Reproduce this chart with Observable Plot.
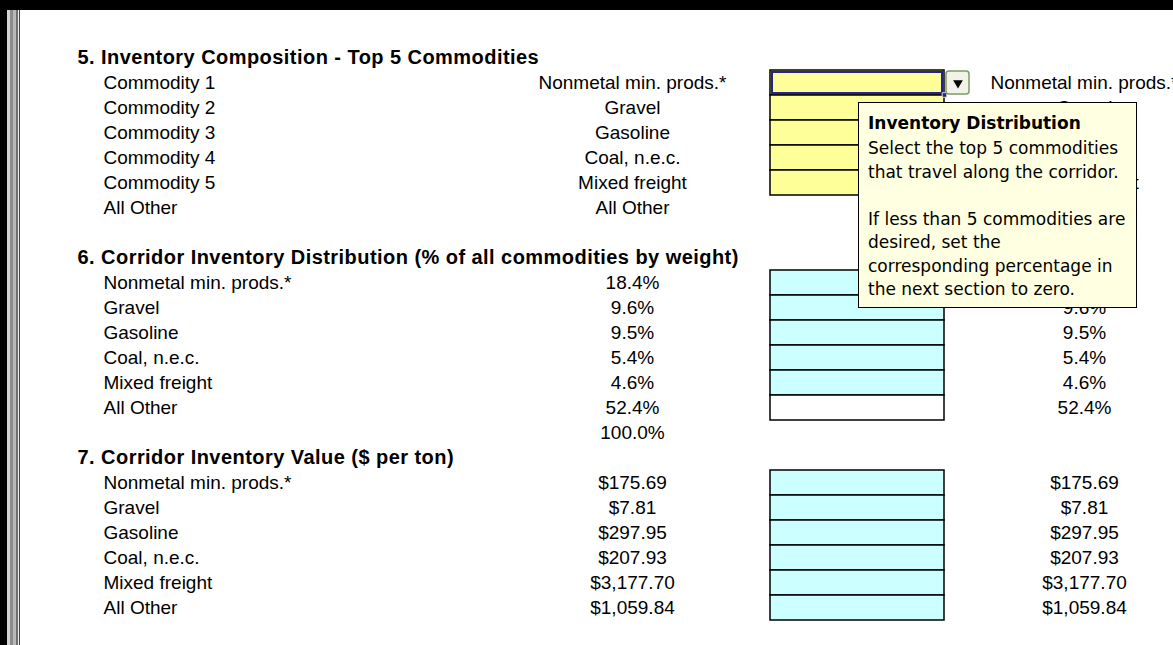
<!DOCTYPE html>
<html>
<head>
<meta charset="utf-8">
<script src="https://cdn.jsdelivr.net/npm/d3@7"></script>
<script src="https://cdn.jsdelivr.net/npm/@observablehq/plot@0.6"></script>
<style>
  html, body { margin: 0; padding: 0; background: #fff; overflow: hidden; }
  #wrap { position: relative; width: 1173px; height: 645px; overflow: hidden; background: #fff; }
  #wrap > svg { position: absolute; left: 0; top: 0; display: block; }
  .bar { position: absolute; }
  .tip {
    position: absolute; left: 858px; top: 102px; width: 279px; height: 206px;
    box-sizing: border-box; background: #ffffe1; border: 1px solid #000;
    font-family: "DejaVu Sans", sans-serif; font-size: 17px; color: #000;
    padding: 8px 0 0 9px; white-space: nowrap; overflow: hidden;
  }
  .tip div { height: 23.5px; line-height: 23.5px; }
  .tip .t { font-weight: bold; height: 26px; line-height: 24px; }
</style>
</head>
<body>
<div id="wrap"></div>
<script>
// ---------------- data ----------------
const headers = [
  "5. Inventory Composition - Top 5 Commodities",
  "6. Corridor Inventory Distribution (% of all commodities by weight)",
  "7. Corridor Inventory Value ($ per ton)"
];
const slotLabels = ["Commodity 1", "Commodity 2", "Commodity 3", "Commodity 4", "Commodity 5", "All Other"];
const commodities = ["Nonmetal min. prods.*", "Gravel", "Gasoline", "Coal, n.e.c.", "Mixed freight", "All Other"];
const distributionPct = [18.4, 9.6, 9.5, 5.4, 4.6, 52.4];
const distributionTotal = 100.0;
const valuePerTon = [175.69, 7.81, 297.95, 207.93, 3177.70, 1059.84];
const tipTitle = "Inventory Distribution";
const tipLines = ["Select the top 5 commodities", "that travel along the corridor.", "", "If less than 5 commodities are", "desired, set the", "corresponding percentage in", "the next section to zero."];

// ---------------- layout ----------------
const W = 1173, H = 645;
const HEAD_X = 77, LABEL_X = 103, VALUE_X = 632, CELL_X1 = 770, CELL_X2 = 944, RIGHT_X = 1084;
const BTN_X1 = 946, BTN_X2 = 969;
// row slots: 0 header5, 1-6 sec5, 7 blank, 8 header6, 9-14 sec6, 15 total, 16 header7, 17-22 sec7
const SEC5 = 1, SEC6 = 9, SEC7 = 17;
const headerRows = [0, 8, 16];
const TOTAL_ROW = 15;
const NROWS = 23;

const pct = d3.format(".1f");
const money = d3.format("$,.2f");

const headerData = headers.map((t, i) => ({row: headerRows[i], text: t, x: HEAD_X}));

const labelData = [];
const valueData = [];
const rightData = [];
slotLabels.forEach((t, i) => labelData.push({row: SEC5 + i, text: t, x: LABEL_X}));
commodities.forEach((t, i) => {
  labelData.push({row: SEC6 + i, text: t, x: LABEL_X});
  labelData.push({row: SEC7 + i, text: t, x: LABEL_X});
  valueData.push({row: SEC5 + i, text: t, x: VALUE_X});
  rightData.push({row: SEC5 + i, text: t, x: RIGHT_X});
});
distributionPct.forEach((v, i) => {
  valueData.push({row: SEC6 + i, text: pct(v) + "%", x: VALUE_X});
  rightData.push({row: SEC6 + i, text: pct(v) + "%", x: RIGHT_X});
});
valueData.push({row: TOTAL_ROW, text: pct(distributionTotal) + "%", x: VALUE_X});
valuePerTon.forEach((v, i) => {
  valueData.push({row: SEC7 + i, text: money(v), x: VALUE_X});
  rightData.push({row: SEC7 + i, text: money(v), x: RIGHT_X});
});

const cells = [];
for (let i = 0; i < 5; i++) cells.push({row: SEC5 + i, fill: "#ffff99", x1: CELL_X1, x2: CELL_X2});
for (let i = 0; i < 6; i++) cells.push({row: SEC6 + i, fill: i === 5 ? "#ffffff" : "#ccffff", x1: CELL_X1, x2: CELL_X2});
for (let i = 0; i < 6; i++) cells.push({row: SEC7 + i, fill: "#ccffff", x1: CELL_X1, x2: CELL_X2});

const selected = [{row: SEC5, x1: CELL_X1 + 2, x2: CELL_X2 - 2, hx: CELL_X2, bx1: BTN_X1, bx2: BTN_X2, bx: (BTN_X1 + BTN_X2) / 2}];

const FONT = "'Liberation Sans', Arial, sans-serif";

const chart = Plot.plot({
  width: W, height: H,
  margin: 0,
  style: {background: "transparent", overflow: "visible"},
  x: {type: "linear", domain: [0, W], range: [0, W], axis: null},
  y: {type: "band", domain: d3.range(NROWS), range: [40.3, 623.7], padding: 0, axis: null},
  marks: [
    Plot.barX(cells, {x1: "x1", x2: "x2", y: "row", fill: "fill", stroke: "#000", strokeWidth: 1.5}),
    Plot.barX(selected, {x1: "x1", x2: "x2", y: "row", insetTop: 2, insetBottom: 2, fill: "none", stroke: "#24248c", strokeWidth: 2}),
    Plot.dot(selected, {x: "hx", y: "row", dy: 12, symbol: "square", r: 2.6, fill: "#24248c", stroke: "#fff", strokeWidth: 0.8}),
    Plot.barX(selected, {x1: "bx1", x2: "bx2", y: "row", insetTop: 1, insetBottom: 1, fill: "#f3f2ea", stroke: "#7d9c63", strokeWidth: 1.5, rx: 3}),
    Plot.dot(selected, {x: "bx", y: "row", symbol: "triangle", rotate: 180, r: 3.6, fill: "#000", stroke: "none"}),
    Plot.text(headerData, {x: "x", y: "row", text: "text", textAnchor: "start", fontWeight: "bold", fontSize: 20, fontFamily: FONT, fill: "#000"}),
    Plot.text(labelData, {x: "x", y: "row", text: "text", textAnchor: "start", fontSize: 19, fontFamily: FONT, fill: "#000"}),
    Plot.text(valueData, {x: "x", y: "row", text: "text", textAnchor: "middle", fontSize: 19, fontFamily: FONT, fill: "#000"}),
    Plot.text(rightData, {x: "x", y: "row", text: "text", textAnchor: "middle", fontSize: 19, fontFamily: FONT, fill: "#000"})
  ]
});

// widen the bold section headers slightly (spreadsheet bold rendering is wider)
d3.select(chart).selectAll("g")
  .filter(function () { return this.getAttribute("font-weight") === "bold"; })
  .selectAll("text")
  .style("letter-spacing", "0.45px");

const wrap = document.getElementById("wrap");
wrap.appendChild(chart);

// window frame (spreadsheet border)
const frameBars = [
  {l: 0, t: 0, w: W, h: 10, c: "#000"},
  {l: 0, t: 0, w: 7, h: H, c: "#000"},
  {l: 7, t: 10, w: 3, h: H, c: "#d4d4d4"},
  {l: 10, t: 10, w: 3, h: H, c: "#8c8c8c"},
  {l: 13, t: 10, w: 3, h: H, c: "#b8b8b8"},
  {l: 16, t: 10, w: 2, h: H, c: "#6e6e6e"},
  {l: 18, t: 10, w: 1, h: H, c: "#f0f0f0"},
  {l: 19, t: 10, w: 1, h: H, c: "#444"}
];
frameBars.forEach(b => {
  const d = document.createElement("div");
  d.className = "bar";
  Object.assign(d.style, {left: b.l + "px", top: b.t + "px", width: b.w + "px", height: b.h + "px", background: b.c});
  wrap.appendChild(d);
});

// comment tooltip
const tip = document.createElement("div");
tip.className = "tip";
const t = document.createElement("div");
t.className = "t";
t.textContent = tipTitle;
tip.appendChild(t);
tipLines.forEach(line => {
  const d = document.createElement("div");
  d.textContent = line || "\u00a0";
  tip.appendChild(d);
});
wrap.appendChild(tip);
</script>
</body>
</html>
